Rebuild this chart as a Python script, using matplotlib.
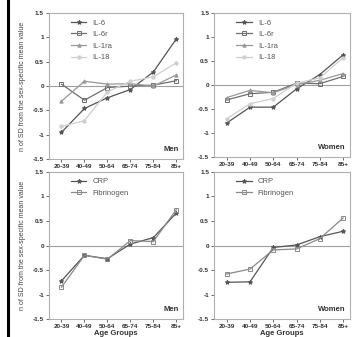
import matplotlib
matplotlib.use("Agg")
import matplotlib.pyplot as plt
from matplotlib.lines import Line2D

plt.rcParams["font.family"] = ["Liberation Sans", "DejaVu Sans"]

AGE_GROUPS = ["20-39", "40-49", "50-64", "65-74", "75-84", "85+"]

# ── cytokines ─────────────────────────────────────────────────────────────────
men_il6   = [-0.95, -0.46, -0.24, -0.07, 0.29, 0.97]
men_il6r  = [0.04, -0.29, -0.03, 0.00, 0.02, 0.11]
men_il1ra = [-0.31, 0.10, 0.04, 0.05, 0.00, 0.23]
men_il18  = [-0.83, -0.71, -0.12, 0.10, 0.19, 0.48]

women_il6   = [-0.79, -0.46, -0.46, -0.08, 0.22, 0.63]
women_il6r  = [-0.31, -0.18, -0.15, 0.04, 0.03, 0.18]
women_il1ra = [-0.26, -0.11, -0.16, 0.01, 0.10, 0.24]
women_il18  = [-0.70, -0.39, -0.28, 0.04, 0.15, 0.57]

# ── acute phase proteins ──────────────────────────────────────────────────────
men_crp = [-0.72, -0.20, -0.27, 0.03, 0.16, 0.66]
men_fib = [-0.85, -0.20, -0.28, 0.10, 0.08, 0.73]

women_crp = [-0.75, -0.74, -0.04, 0.01, 0.18, 0.29]
women_fib = [-0.58, -0.48, -0.09, -0.07, 0.14, 0.56]

CYTO_STYLE = [
    ("IL-6",   "#555555", "*"),
    ("IL-6r",  "#6f6f6f", "s"),
    ("IL-1ra", "#999999", "^"),
    ("IL-18",  "#cfcfcf", "o"),
]
ACUTE_STYLE = [
    ("CRP",        "#555555", "*"),
    ("Fibrinogen", "#8a8a8a", "s"),
]

fig = plt.figure(figsize=(3.62, 3.37), dpi=100)
fig.patch.set_facecolor("white")

positions = [
    [0.135, 0.528, 0.371, 0.433],
    [0.591, 0.534, 0.376, 0.427],
    [0.135, 0.053, 0.371, 0.437],
    [0.591, 0.053, 0.376, 0.437],
]
panels = [
    (positions[0], [men_il6, men_il6r, men_il1ra, men_il18], CYTO_STYLE, "Men", True, False),
    (positions[1], [women_il6, women_il6r, women_il1ra, women_il18], CYTO_STYLE, "Women", False, False),
    (positions[2], [men_crp, men_fib], ACUTE_STYLE, "Men", True, True),
    (positions[3], [women_crp, women_fib], ACUTE_STYLE, "Women", False, True),
]

x = range(len(AGE_GROUPS))
for pos, series, styles, sex, ylab, xlab in panels:
    ax = fig.add_axes(pos)
    ax.axhline(0, color="#a0a0a0", lw=0.8, zorder=1)
    for vals, (name, col, mk) in zip(series, styles):
        ms = 3.3 if mk == "*" else 2.4
        ax.plot(x, vals, color=col, lw=0.9, marker=mk, ms=ms,
                mfc=col if mk != "s" else "none", mec=col, mew=0.7,
                label=name, zorder=3)
    ax.set_xlim(-0.55, 5.3)
    ax.set_ylim(-1.5, 1.5)
    ax.set_yticks([-1.5, -1, -0.5, 0, 0.5, 1, 1.5])
    ax.set_yticklabels(["-1.5", "-1", "-0.5", "0", "0.5", "1", "1.5"])
    ax.set_xticks(list(x))
    ax.set_xticklabels(AGE_GROUPS)
    ax.tick_params(labelsize=4.6, colors="#333333", length=2, width=0.5, pad=1.5)
    for lbl in ax.get_xticklabels() + ax.get_yticklabels():
        lbl.set_fontweight("bold")
    for sp in ax.spines.values():
        sp.set_color("#b0b0b0")
        sp.set_linewidth(0.8)
    ax.text(0.97, 0.04, sex, transform=ax.transAxes, ha="right", va="bottom",
            fontsize=5.5, fontweight="bold", color="#333333")
    ax.legend(loc="upper left", frameon=False, fontsize=5.5, handlelength=2.0,
              labelcolor="#555555", borderaxespad=0.4, labelspacing=0.55,
              bbox_to_anchor=(0.12, 1.0))
    if ylab:
        ax.set_ylabel("n of SD from the sex-specific mean value", fontsize=5,
                      color="#444444", labelpad=5)
    if xlab:
        ax.set_xlabel("Age Groups", fontsize=5.5, color="#333333",
                      fontweight="bold", labelpad=1)

fig.add_artist(Line2D([0.022, 0.022], [0.0, 1.0], color="black", lw=2.2))

fig.savefig("out.png", dpi=100)
